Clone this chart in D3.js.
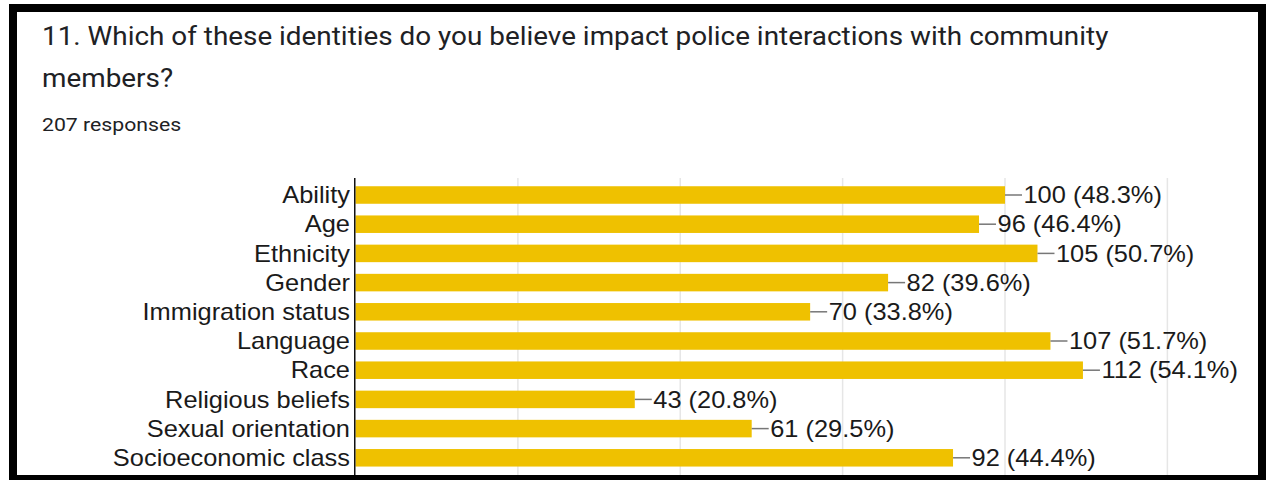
<!DOCTYPE html>
<html>
<head>
<meta charset="utf-8">
<script src="https://cdn.jsdelivr.net/npm/d3@7"></script>
<style>
  html, body { margin: 0; padding: 0; background: #fff; }
  svg { display: block; }
</style>
</head>
<body>
<svg id="chart" width="1270" height="480"></svg>
<script>
// Survey question 11: identities believed to impact police interactions
const categories = [
  "Ability", "Age", "Ethnicity", "Gender", "Immigration status",
  "Language", "Race", "Religious beliefs", "Sexual orientation", "Socioeconomic class"
];
const counts = [100, 96, 105, 82, 70, 107, 112, 43, 61, 92];
const totalResponses = 207;
const gridTicks = [25, 50, 75, 100, 125, 150];

const svg = d3.select("#chart");
const W = 1270, H = 480;

svg.append("rect").attr("width", W).attr("height", H).attr("fill", "#fff");

// Header (slightly widened sans to mimic the form's heading face)
const headFont = "Roboto, 'Open Sans', sans-serif";
function headText(str, xPos, yPos, size, sx) {
  svg.append("text")
    .attr("transform", `translate(${xPos},${yPos}) scale(${sx},1)`)
    .attr("font-family", headFont)
    .attr("font-size", size)
    .attr("fill", "#202124")
    .text(str);
}
headText("11. Which of these identities do you believe impact police interactions with community", 42, 45, 25, 1.115);
headText("members?", 42, 87, 25, 1.115);
headText(totalResponses + " responses", 42, 131, 18, 1.18);

// Scales
const x = d3.scaleLinear().domain([0, 150]).range([355.5, 355.5 + 150 * 6.495]);
const y = d3.scaleBand().domain(categories)
  .range([180.4, 180.4 + 10 * 29.2])
  .paddingInner(0.4).paddingOuter(0.2);

const labelFont = "'Liberation Sans', Arial, Helvetica, sans-serif";
const stretch = 1.105;

// Vertical gridlines
const grid = svg.append("g").attr("class", "grid");
grid.selectAll("line").data(gridTicks).join("line")
  .attr("x1", d => x(d)).attr("x2", d => x(d))
  .attr("y1", 178).attr("y2", H)
  .attr("stroke", "#e6e6e6").attr("stroke-width", 1.5);

// Bars
svg.append("g").selectAll("rect").data(categories).join("rect")
  .attr("x", x(0))
  .attr("y", d => y(d))
  .attr("width", (d, i) => x(counts[i]) - x(0))
  .attr("height", y.bandwidth())
  .attr("fill", "#efc100");

// Category axis
const yAxis = d3.axisLeft(y).tickSize(0).tickPadding(0);
const axisG = svg.append("g").attr("transform", `translate(${x(0) - 0.5},0)`).call(yAxis);
axisG.select(".domain").remove();
axisG.selectAll(".tick text").remove();
axisG.selectAll(".tick").each(function(d) {
  d3.select(this).append("text")
    .attr("transform", `translate(-5,0) scale(${stretch},1)`)
    .attr("text-anchor", "end")
    .attr("dy", "0.36em")
    .attr("font-family", labelFont)
    .attr("font-size", 23)
    .attr("fill", "#1a1a1a")
    .text(d);
});
svg.append("line")
  .attr("x1", x(0) - 0.75).attr("x2", x(0) - 0.75)
  .attr("y1", 178).attr("y2", H)
  .attr("stroke", "#111").attr("stroke-width", 1.5);

// Value labels with leader lines
const fmtPct = d3.format(".1%");
const ann = svg.append("g").selectAll("g").data(categories).join("g")
  .attr("transform", (d, i) => `translate(${x(counts[i])},${y(d) + y.bandwidth() / 2})`);
ann.append("line")
  .attr("x1", 0).attr("x2", 17).attr("y1", 0).attr("y2", 0)
  .attr("stroke", "#777").attr("stroke-width", 1.5);
ann.append("text")
  .attr("transform", `translate(18.5,0) scale(${stretch},1)`)
  .attr("dy", "0.36em")
  .attr("font-family", labelFont)
  .attr("font-size", 23)
  .attr("fill", "#1a1a1a")
  .text((d, i) => `${counts[i]} (${fmtPct(counts[i] / totalResponses)})`);

// Frame
svg.append("rect")
  .attr("x", 13).attr("y", 8)
  .attr("width", 1249).attr("height", 471)
  .attr("fill", "none").attr("stroke", "#000").attr("stroke-width", 8);
</script>
</body>
</html>
